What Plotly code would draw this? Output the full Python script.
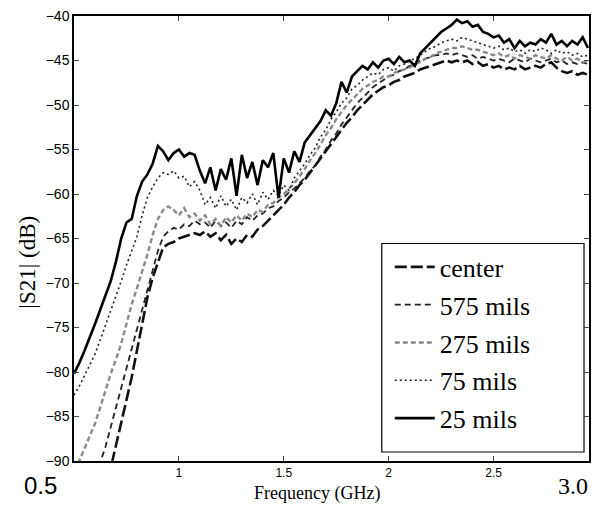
import plotly.graph_objects as go

freq = [round(0.5 + 0.025 * i, 3) for i in range(99)]

s25 = [-80.2, -79.0, -77.6, -76.2, -74.6, -73.0, -71.4, -69.8, -67.6, -65.0,
       -63.2, -62.8, -60.2, -58.6, -57.8, -56.6, -54.6, -55.2, -56.2, -55.4,
       -55.0, -55.8, -55.4, -55.6, -57.4, -58.8, -57.0, -59.6, -57.2, -58.4,
       -56.0, -60.2, -55.6, -58.2, -56.4, -59.0, -56.2, -57.0, -55.4, -60.4,
       -56.0, -57.6, -55.2, -56.4, -54.2, -53.4, -52.6, -51.8, -50.6, -51.2,
       -49.8, -47.4, -48.6, -46.8, -46.2, -45.6, -46.0, -45.2, -45.8, -45.0,
       -44.8, -45.4, -44.6, -45.2, -45.0, -45.6, -44.2, -43.6, -43.0, -42.4,
       -41.8, -41.4, -41.0, -40.4, -40.8, -40.6, -41.2, -41.0, -41.8, -42.0,
       -42.4, -42.2, -43.0, -42.6, -43.6, -42.8, -43.4, -43.0, -43.2, -42.6,
       -43.0, -42.0, -43.2, -42.8, -43.4, -42.8, -43.2, -42.4, -43.6]

s75 = [-82.6, -81.6, -80.4, -79.2, -78.0, -76.4, -74.8, -73.2, -71.6, -69.8,
       -68.0, -66.4, -64.8, -62.4, -60.4, -59.2, -58.2, -57.6, -57.8, -57.4,
       -58.2, -58.0, -59.2, -58.6, -59.6, -61.2, -60.4, -61.6, -60.2, -61.4,
       -60.6, -61.8, -60.4, -61.0, -60.0, -61.2, -59.8, -60.6, -59.6, -60.2,
       -59.0, -59.6, -58.2, -57.4, -56.6, -55.6, -54.8, -53.6, -52.8, -51.6,
       -50.8, -49.8, -49.2, -48.2, -47.8, -47.2, -46.8, -46.4, -46.6, -46.0,
       -45.8, -46.2, -45.6, -45.4, -45.0, -44.8, -44.4, -44.0, -43.6, -43.4,
       -43.0, -42.8, -42.6, -42.8, -42.4, -42.6, -42.8, -43.0, -43.2, -43.4,
       -43.6, -43.4, -43.8, -43.6, -44.0, -43.8, -44.2, -43.8, -44.0, -43.6,
       -43.8, -44.2, -43.8, -44.2, -44.0, -44.4, -44.2, -44.6, -44.4]

s275 = [-92.0, -90.0, -88.6, -87.2, -85.8, -84.0, -82.0, -80.2, -78.6, -76.8,
        -74.6, -72.4, -70.6, -68.8, -66.8, -64.6, -62.8, -61.8, -61.4, -61.8,
        -62.4, -61.6, -62.6, -62.2, -63.0, -62.4, -63.4, -62.8, -63.6, -62.6,
        -63.2, -62.4, -63.0, -62.2, -62.6, -61.8, -62.0, -61.2, -61.0, -60.4,
        -60.0, -59.4, -58.8, -58.0, -57.2, -56.2, -55.4, -54.4, -53.4, -52.6,
        -51.6, -50.8, -50.0, -49.4, -48.8, -48.2, -47.8, -47.4, -47.2, -46.8,
        -46.8, -46.4, -46.2, -46.0, -45.8, -45.4, -45.2, -44.8, -44.6, -44.2,
        -44.0, -43.8, -43.6, -43.6, -43.4, -43.6, -43.8, -43.8, -44.0, -44.2,
        -44.4, -44.2, -44.6, -44.4, -44.8, -44.4, -44.6, -44.8, -44.4, -44.6,
        -44.8, -44.4, -44.8, -45.0, -44.6, -45.0, -44.8, -45.2, -45.0]

s575 = [-98.0, -96.0, -94.5, -93.0, -91.5, -90.2, -88.4, -86.2, -84.0, -81.8,
        -79.6, -77.4, -75.2, -73.0, -70.8, -68.6, -66.4, -64.8, -64.2, -63.8,
        -64.0, -63.4, -63.6, -63.0, -63.4, -63.2, -63.8, -63.0, -63.6, -63.2,
        -63.8, -63.0, -63.4, -62.6, -63.0, -62.4, -62.2, -61.6, -61.4, -60.8,
        -60.4, -59.8, -59.4, -58.8, -58.2, -57.4, -56.8, -55.8, -55.0, -54.0,
        -53.2, -52.2, -51.4, -50.6, -49.8, -49.2, -48.6, -48.0, -47.6, -47.2,
        -46.8, -46.6, -46.2, -46.0, -45.6, -45.4, -45.0, -44.8, -44.6, -44.4,
        -44.4, -44.2, -44.4, -44.2, -44.4, -44.6, -44.4, -44.8, -44.6, -44.8,
        -45.0, -44.8, -45.0, -45.2, -44.8, -45.0, -45.2, -44.8, -45.0, -45.2,
        -45.0, -44.8, -45.2, -45.0, -45.4, -45.2, -45.4, -45.2, -45.4]

scenter = [-104.0, -102.0, -100.0, -98.0, -96.0, -94.0, -92.2, -90.8, -88.2, -85.8,
           -83.2, -80.6, -77.6, -74.4, -71.6, -69.4, -67.6, -66.0, -65.6, -65.4,
           -65.0, -64.8, -64.6, -64.4, -64.6, -64.2, -64.8, -64.4, -65.2, -64.6,
           -65.6, -65.0, -65.4, -64.6, -64.8, -64.0, -63.6, -63.0, -62.4, -61.8,
           -61.2, -60.4, -59.8, -59.0, -58.4, -57.6, -56.8, -56.0, -55.2, -54.4,
           -53.6, -52.8, -52.0, -51.4, -50.6, -50.0, -49.4, -48.8, -48.4, -48.0,
           -47.8, -47.4, -47.2, -46.8, -46.6, -46.4, -46.0, -45.8, -45.6, -45.4,
           -45.2, -45.0, -45.2, -45.0, -45.2, -45.0, -45.4, -45.2, -45.6, -45.4,
           -45.8, -45.6, -46.0, -45.8, -46.0, -45.6, -46.0, -45.8, -45.6, -45.8,
           -45.4, -45.2, -45.8, -46.2, -46.4, -46.2, -46.6, -46.4, -46.6]

series_names = ["center", "575 mils", "275 mils", "75 mils", "25 mils"]
series_vals = [scenter, s575, s275, s75, s25]

y_ticks = [-40, -45, -50, -55, -60, -65, -70, -75, -80, -85, -90]
x_ticks = [1, 1.5, 2, 2.5]
x_tick_text = ["1", "1.5", "2", "2.5"]

styles = {
    "center": dict(color="#111111", width=2.6, dash="12px,4px"),
    "575 mils": dict(color="#222222", width=1.8, dash="6px,4px"),
    "275 mils": dict(color="#8a8a8a", width=2.4, dash="5px,3px"),
    "75 mils": dict(color="#222222", width=1.6, dash="2px,3px"),
    "25 mils": dict(color="#000000", width=2.6),
}

L, R, T, B = 74, 591, 15, 461
W, H = R - L, B - T


def px(x):
    return (x - L) / W


def py(y):
    return (B - y) / H


fig = go.Figure()
for i, (name, vals) in enumerate(zip(series_names, series_vals)):
    fig.add_trace(go.Scatter(
        x=freq, y=vals, mode="lines", name=name,
        line=styles[name], legendgroup=f"g{i}",
    ))

fig.update_layout(
    width=599, height=509,
    margin=dict(l=L, r=599 - R, t=T, b=509 - B),
    paper_bgcolor="white", plot_bgcolor="white",
    showlegend=True,
    legend=dict(
        x=px(391), y=py(243), xanchor="left", yanchor="top",
        bgcolor="rgba(0,0,0,0)", borderwidth=0,
        font=dict(family="Liberation Serif", size=26, color="black"),
        tracegroupgap=1, itemwidth=40,
    ),
    xaxis=dict(
        range=[0.5, 2.955], tickvals=x_ticks, ticktext=x_tick_text,
        ticks="inside", ticklen=5, showline=True, linecolor="black", linewidth=1.5,
        mirror="ticks", showgrid=False, zeroline=False,
        tickfont=dict(family="Liberation Sans", size=12, color="black"),
    ),
    yaxis=dict(
        range=[-90, -40], tickvals=y_ticks,
        ticks="inside", ticklen=5, showline=True, linecolor="black", linewidth=1.5,
        mirror="ticks", showgrid=False, zeroline=False,
        tickfont=dict(family="Liberation Sans", size=14, color="black"),
    ),
)

fig.add_shape(type="rect", xref="paper", yref="paper",
              x0=px(383), x1=px(586), y0=py(452), y1=py(243),
              line=dict(color="black", width=1.2), fillcolor="white", layer="below")

annos = [
    dict(text="0.5", x=40, y=486, fam="Liberation Sans", size=24),
    dict(text="3.0", x=575, y=486, fam="Liberation Serif", size=24),
    dict(text="Frequency (GHz)", x=318, y=494, fam="Liberation Serif", size=18),
]
for a in annos:
    fig.add_annotation(
        text=a["text"], x=px(a["x"]), y=py(a["y"]),
        xref="paper", yref="paper", showarrow=False,
        xanchor="center", yanchor="middle",
        font=dict(family=a["fam"], size=a["size"], color="black"),
    )
fig.add_annotation(
    text="|S21| (dB)", x=px(27), y=py(262),
    xref="paper", yref="paper", showarrow=False, textangle=-90,
    xanchor="center", yanchor="middle",
    font=dict(family="Liberation Serif", size=23, color="black"),
)

fig.write_html("out.html", config={"displayModeBar": False},
               post_script="document.body.style.margin='0';")
